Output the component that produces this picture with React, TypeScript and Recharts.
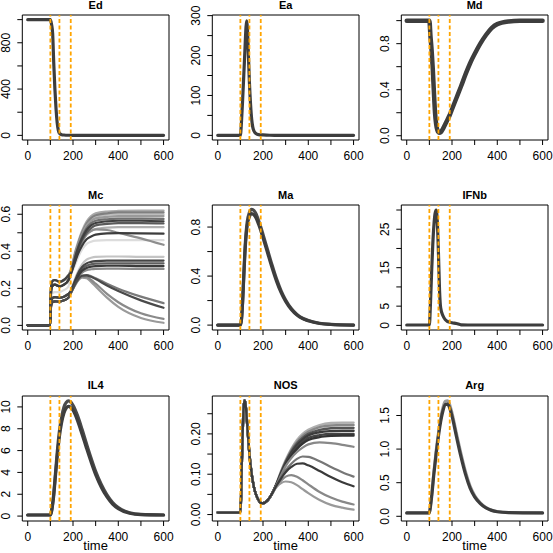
import React from 'react';
import { LineChart, Line, XAxis, YAxis, ReferenceLine, ReferenceArea } from 'recharts';

const FONT = 'Arial, "Liberation Sans", Helvetica, sans-serif';

const xTicks = [0, 100, 200, 300, 400, 500, 600];
const xLabels = [0, 200, 400, 600];
const markerTimes = [100, 140, 190];

// ---- Ed ----
const edTimes = [0, 100, 105, 110, 115, 120, 125, 130, 135, 140, 150, 160, 180, 200, 300, 600];
const edValues = [1000, 1000, 960, 880, 620, 400, 230, 110, 45, 18, 6, 3, 1, 0.5, 0, 0];

// ---- Ea ----
const eaTimes = [0, 100, 105, 110, 115, 120, 125, 128, 131, 135, 140, 145, 150, 155, 160, 170, 180, 200, 230, 300, 600];
const eaValues = [0, 0, 35, 90, 150, 212, 272, 287, 270, 210, 132, 78, 40, 20, 11, 4, 2, 1, 0.3, 0, 0];

// ---- Md ----
const mdTimes = [0, 100, 105, 110, 115, 120, 125, 130, 135, 140, 145, 150, 160, 170, 180, 190, 200, 220, 240, 260, 280, 300, 325, 350, 375, 400, 450, 500, 600];
const mdValues = [1, 1, 0.86, 0.74, 0.58, 0.38, 0.2, 0.1, 0.05, 0.03, 0.025, 0.03, 0.06, 0.1, 0.14, 0.18, 0.23, 0.33, 0.43, 0.535, 0.63, 0.71, 0.8, 0.875, 0.935, 0.97, 0.993, 0.999, 1];

// ---- Mc ----
const mcTimes = [0, 99, 102, 105, 110, 120, 140, 160, 180, 190, 200, 210, 220, 240, 260, 280, 300, 350, 400, 500, 600];
const mcUpperA = [0, 0, 0.19, 0.225, 0.24, 0.245, 0.235, 0.245, 0.27];
const mcUpperB = [0, 0, 0.16, 0.2, 0.215, 0.22, 0.21, 0.22, 0.245];
const mcMid = [0, 0, 0.13, 0.16, 0.175, 0.18, 0.18, 0.19, 0.21];
const mcLowerA = [0, 0, 0.11, 0.135, 0.148, 0.152, 0.15, 0.155, 0.17];
const mcLowerB = [0, 0, 0.09, 0.115, 0.125, 0.13, 0.128, 0.135, 0.15];
const mcTail460 = [0.27, 0.3, 0.33, 0.36, 0.41, 0.44, 0.452, 0.458, 0.46, 0.46, 0.46, 0.46];
const mcTail620 = [0.3, 0.35, 0.4, 0.44, 0.51, 0.56, 0.59, 0.605, 0.615, 0.618, 0.62, 0.62];
const mcTail610 = [0.295, 0.34, 0.39, 0.43, 0.5, 0.55, 0.58, 0.595, 0.605, 0.61, 0.61, 0.61];
const mcTail600 = [0.29, 0.335, 0.38, 0.42, 0.49, 0.54, 0.57, 0.585, 0.598, 0.6, 0.6, 0.6];
const mcTail590 = [0.29, 0.335, 0.38, 0.42, 0.49, 0.54, 0.565, 0.578, 0.586, 0.59, 0.59, 0.59];
const mcTail575 = [0.285, 0.33, 0.375, 0.415, 0.48, 0.525, 0.552, 0.565, 0.573, 0.576, 0.576, 0.575];
const mcTail565 = [0.285, 0.325, 0.37, 0.41, 0.47, 0.515, 0.54, 0.553, 0.562, 0.565, 0.565, 0.562];
const mcTail550 = [0.28, 0.32, 0.36, 0.4, 0.46, 0.5, 0.525, 0.54, 0.548, 0.552, 0.552, 0.55];
const mcTail530 = [0.28, 0.315, 0.355, 0.39, 0.45, 0.49, 0.51, 0.52, 0.528, 0.53, 0.53, 0.53];
const mcTail495 = [0.275, 0.31, 0.345, 0.38, 0.43, 0.465, 0.48, 0.49, 0.497, 0.498, 0.497, 0.495];
const mcTail435 = [0.28, 0.315, 0.35, 0.39, 0.45, 0.49, 0.51, 0.518, 0.515, 0.5, 0.47, 0.435];
const mcTail370 = [0.19, 0.22, 0.255, 0.285, 0.33, 0.355, 0.365, 0.37, 0.372, 0.372, 0.37, 0.37];
const mcTail350 = [0.185, 0.215, 0.245, 0.275, 0.315, 0.335, 0.343, 0.347, 0.35, 0.35, 0.35, 0.35];
const mcTail335 = [0.18, 0.21, 0.24, 0.265, 0.305, 0.322, 0.33, 0.333, 0.335, 0.335, 0.335, 0.335];
const mcTail320 = [0.18, 0.205, 0.235, 0.26, 0.295, 0.31, 0.317, 0.32, 0.322, 0.322, 0.32, 0.32];
const mcTail305 = [0.175, 0.2, 0.23, 0.255, 0.285, 0.298, 0.303, 0.305, 0.306, 0.306, 0.305, 0.305];
const mcTail120 = [0.175, 0.2, 0.225, 0.245, 0.268, 0.272, 0.265, 0.255, 0.225, 0.198, 0.155, 0.12];
const mcTail095 = [0.175, 0.2, 0.225, 0.245, 0.268, 0.27, 0.262, 0.25, 0.215, 0.185, 0.135, 0.095];
const mcTail035 = [0.175, 0.198, 0.22, 0.24, 0.262, 0.262, 0.245, 0.225, 0.17, 0.125, 0.065, 0.035];
const mcTail014 = [0.172, 0.195, 0.218, 0.238, 0.258, 0.255, 0.235, 0.21, 0.15, 0.1, 0.04, 0.014];

// ---- Ma ----
const maTimes = [0, 100, 105, 110, 115, 120, 125, 130, 140, 150, 160, 170, 180, 190, 200, 220, 240, 260, 280, 300, 325, 350, 375, 400, 450, 500, 600];
const maUpper = [0, 0, 0.05, 0.2, 0.41, 0.61, 0.75, 0.84, 0.92, 0.945, 0.935, 0.905, 0.855, 0.8, 0.74, 0.615, 0.49, 0.375, 0.28, 0.205, 0.135, 0.087, 0.056, 0.038, 0.015, 0.006, 0];
const maLower = [0, 0, 0.045, 0.19, 0.39, 0.58, 0.72, 0.81, 0.885, 0.91, 0.9, 0.872, 0.825, 0.772, 0.713, 0.59, 0.468, 0.357, 0.265, 0.194, 0.128, 0.082, 0.053, 0.035, 0.013, 0.005, 0];

// ---- IFNb ----
const ifnTimes = [0, 100, 105, 110, 115, 120, 125, 130, 135, 140, 145, 150, 160, 170, 180, 200, 220, 240, 300, 600];
const ifnValues = [0.1, 0.1, 6, 14, 21, 26, 29, 30, 27, 19, 9, 4.5, 2.5, 1.5, 1, 0.7, 0.5, 0.15, 0.1, 0.1];

// ---- IL4 ----
const il4Times = [0, 100, 105, 110, 115, 120, 130, 140, 150, 160, 170, 180, 190, 200, 220, 240, 260, 280, 300, 325, 350, 375, 400, 450, 500, 600];
const il4Upper = [0.1, 0.1, 0.45, 1.15, 2.1, 3.3, 5.8, 7.8, 9.1, 10, 10.4, 10.55, 10.45, 10.15, 9.2, 7.95, 6.6, 5.3, 4.1, 2.9, 1.95, 1.25, 0.78, 0.3, 0.15, 0.1];
const il4Lower = [0.1, 0.1, 0.4, 1.05, 1.9, 3.1, 5.4, 7.3, 8.6, 9.45, 9.9, 10.05, 9.95, 9.7, 8.75, 7.5, 6.2, 4.95, 3.8, 2.65, 1.75, 1.1, 0.68, 0.26, 0.13, 0.1];

// ---- NOS ----
const nosTimes = [0, 100, 103, 106, 110, 114, 118, 122, 126, 130, 140, 150, 160, 170, 180, 190, 200, 220, 240, 260, 280, 300, 325, 350, 375, 400, 450, 500, 550, 600];
const nosStart = [0.005, 0.005, 0.04, 0.12, 0.2, 0.262, 0.283, 0.278, 0.255, 0.225, 0.15, 0.1, 0.068, 0.048, 0.036, 0.029, 0.028, 0.035, 0.052];
const nosTail228 = [0.078, 0.108, 0.135, 0.163, 0.185, 0.2, 0.21, 0.222, 0.227, 0.228, 0.228];
const nosTail222 = [0.077, 0.106, 0.132, 0.16, 0.18, 0.195, 0.205, 0.217, 0.221, 0.222, 0.222];
const nosTail215 = [0.076, 0.104, 0.13, 0.156, 0.176, 0.19, 0.2, 0.21, 0.214, 0.215, 0.215];
const nosTail208 = [0.076, 0.103, 0.128, 0.153, 0.172, 0.186, 0.196, 0.204, 0.207, 0.208, 0.208];
const nosTail200 = [0.075, 0.101, 0.125, 0.149, 0.167, 0.18, 0.19, 0.197, 0.2, 0.2, 0.2];
const nosTail196 = [0.074, 0.1, 0.123, 0.146, 0.163, 0.176, 0.185, 0.192, 0.195, 0.196, 0.196];
const nosTail168 = [0.074, 0.098, 0.12, 0.14, 0.155, 0.166, 0.174, 0.179, 0.177, 0.173, 0.168];
const nosTail094 = [0.073, 0.094, 0.11, 0.126, 0.138, 0.144, 0.143, 0.132, 0.118, 0.105, 0.094];
const nosTail070 = [0.072, 0.09, 0.105, 0.118, 0.126, 0.127, 0.122, 0.108, 0.093, 0.08, 0.07];
const nosTail025 = [0.07, 0.084, 0.094, 0.098, 0.094, 0.085, 0.075, 0.056, 0.042, 0.032, 0.025];
const nosTail012 = [0.068, 0.078, 0.082, 0.08, 0.073, 0.063, 0.053, 0.036, 0.024, 0.017, 0.012];

// ---- Arg ----
const argTimes = [0, 100, 105, 110, 120, 130, 140, 150, 160, 170, 180, 190, 200, 220, 240, 260, 280, 300, 325, 350, 375, 400, 450, 600];
const argUpper = [0.05, 0.05, 0.16, 0.31, 0.67, 0.98, 1.24, 1.46, 1.62, 1.71, 1.72, 1.66, 1.54, 1.23, 0.93, 0.66, 0.45, 0.31, 0.2, 0.13, 0.09, 0.07, 0.055, 0.05];
const argMain = [0.05, 0.05, 0.15, 0.29, 0.63, 0.93, 1.19, 1.41, 1.57, 1.66, 1.67, 1.61, 1.49, 1.18, 0.88, 0.62, 0.42, 0.29, 0.19, 0.125, 0.088, 0.068, 0.055, 0.05];

type Series = { values: number[]; color: string; width: number };
type PanelDef = {
  title: string;
  times: number[];
  series: Series[];
  yDomain: [number, number];
  yTicks: number[];
  yLabels: number[];
  digits: number;
};

const DARK = '#3d3d3d';

const panels: PanelDef[] = [
  { title: 'Ed', times: edTimes, series: [{ values: edValues, color: DARK, width: 3.2 }], yDomain: [-40, 1040], yTicks: [0, 200, 400, 600, 800, 1000], yLabels: [0, 400, 800], digits: 0 },
  { title: 'Ea', times: eaTimes, series: [{ values: eaValues, color: DARK, width: 3.2 }], yDomain: [-11.6, 301.6], yTicks: [0, 50, 100, 150, 200, 250, 300], yLabels: [0, 100, 200, 300], digits: 0 },
  { title: 'Md', times: mdTimes, series: [{ values: mdValues, color: DARK, width: 4.5 }], yDomain: [-0.037, 1.049], yTicks: [0, 0.2, 0.4, 0.6, 0.8, 1.0], yLabels: [0, 0.4, 0.8], digits: 1 },
  {
    title: 'Mc', times: mcTimes, yDomain: [-0.025, 0.65], yTicks: [0, 0.1, 0.2, 0.3, 0.4, 0.5, 0.6], yLabels: [0, 0.2, 0.4, 0.6], digits: 1,
    series: [
      { values: [...mcMid, ...mcTail460], color: '#dcdcdc', width: 2.2 },
      { values: [...mcUpperA, ...mcTail620], color: '#a8a8a8', width: 2.2 },
      { values: [...mcUpperB, ...mcTail600], color: '#bdbdbd', width: 2.2 },
      { values: [...mcUpperB, ...mcTail530], color: '#b0b0b0', width: 2.2 },
      { values: [...mcLowerA, ...mcTail370], color: '#c4c4c4', width: 2.2 },
      { values: [...mcUpperA, ...mcTail610], color: '#808080', width: 2.2 },
      { values: [...mcUpperA, ...mcTail590], color: '#9a9a9a', width: 2.2 },
      { values: [...mcUpperA, ...mcTail435], color: '#8e8e8e', width: 2.2 },
      { values: [...mcLowerB, ...mcTail305], color: '#8a8a8a', width: 2.2 },
      { values: [...mcLowerB, ...mcTail014], color: '#9a9a9a', width: 2.2 },
      { values: [...mcLowerA, ...mcTail035], color: '#8a8a8a', width: 2.2 },
      { values: [...mcLowerA, ...mcTail120], color: '#7a7a7a', width: 2.2 },
      { values: [...mcUpperB, ...mcTail575], color: '#707070', width: 2.2 },
      { values: [...mcUpperB, ...mcTail550], color: '#5a5a5a', width: 2.2 },
      { values: [...mcLowerA, ...mcTail335], color: '#5e5e5e', width: 2.2 },
      { values: [...mcUpperA, ...mcTail565], color: '#404040', width: 2.2 },
      { values: [...mcUpperB, ...mcTail495], color: '#3c3c3c', width: 2.2 },
      { values: [...mcLowerA, ...mcTail350], color: '#444444', width: 2.2 },
      { values: [...mcLowerB, ...mcTail320], color: '#3a3a3a', width: 2.2 },
      { values: [...mcLowerB, ...mcTail095], color: '#4a4a4a', width: 2.2 },
    ],
  },
  {
    title: 'Ma', times: maTimes, yDomain: [-0.04, 0.98], yTicks: [0, 0.2, 0.4, 0.6, 0.8], yLabels: [0, 0.4, 0.8], digits: 1,
    series: [
      { values: maUpper, color: '#4a4a4a', width: 3.2 },
      { values: maLower, color: DARK, width: 3.2 },
    ],
  },
  { title: 'IFNb', times: ifnTimes, series: [{ values: ifnValues, color: DARK, width: 3.2 }], yDomain: [-1.2, 31.3], yTicks: [0, 5, 10, 15, 20, 25, 30], yLabels: [0, 5, 15, 25], digits: 0 },
  {
    title: 'IL4', times: il4Times, yDomain: [-0.45, 11.0], yTicks: [0, 2, 4, 6, 8, 10], yLabels: [0, 2, 4, 6, 8, 10], digits: 0,
    series: [
      { values: il4Upper, color: '#4a4a4a', width: 3.2 },
      { values: il4Lower, color: DARK, width: 3.2 },
    ],
  },
  {
    title: 'NOS', times: nosTimes, yDomain: [-0.016, 0.294], yTicks: [0, 0.05, 0.1, 0.15, 0.2, 0.25], yLabels: [0, 0.1, 0.2], digits: 2,
    series: [
      { values: [...nosStart, ...nosTail228], color: '#b0b0b0', width: 2.4 },
      { values: [...nosStart, ...nosTail222], color: '#888888', width: 2.4 },
      { values: [...nosStart, ...nosTail215], color: '#555555', width: 2.4 },
      { values: [...nosStart, ...nosTail208], color: '#3c3c3c', width: 2.4 },
      { values: [...nosStart, ...nosTail200], color: '#444444', width: 2.4 },
      { values: [...nosStart, ...nosTail196], color: '#333333', width: 2.4 },
      { values: [...nosStart, ...nosTail168], color: '#888888', width: 2.2 },
      { values: [...nosStart, ...nosTail094], color: '#777777', width: 2.2 },
      { values: [...nosStart, ...nosTail025], color: '#888888', width: 2.2 },
      { values: [...nosStart, ...nosTail012], color: '#999999', width: 2.2 },
      { values: [...nosStart, ...nosTail070], color: '#3a3a3a', width: 2.2 },
    ],
  },
  {
    title: 'Arg', times: argTimes, yDomain: [-0.07, 1.79], yTicks: [0, 0.5, 1.0, 1.5], yLabels: [0, 0.5, 1.0, 1.5], digits: 1,
    series: [
      { values: argUpper, color: '#9a9a9a', width: 3 },
      { values: argMain, color: DARK, width: 3.2 },
    ],
  },
];

const COL_X = [0, 190, 379];
const ROW_Y = [0, 190, 380.5];
const PLOT_LEFT = 22.3;
const PLOT_TOP = 15;
const PLOT_W = 146.7;
const PLOT_H = 125;
const X_AXIS_H = 40;
const CHART_W = PLOT_LEFT + PLOT_W + 10;
const CHART_H = PLOT_TOP + PLOT_H + X_AXIS_H;
const X_DOMAIN: [number, number] = [-24, 624];

function Panel({ p, left, top, showTime }: { p: PanelDef; left: number; top: number; showTime: boolean }) {
  const rows = p.times.map((t, i) => {
    const r: Record<string, number> = { t };
    p.series.forEach((s, j) => {
      r['s' + j] = s.values[i];
    });
    return r;
  });

  const XTick = (props: any) => {
    const { x, payload } = props;
    if (!xLabels.some((v) => Math.abs(v - payload.value) < 1e-9)) return <g />;
    return (
      <text x={x} y={PLOT_TOP + PLOT_H + 19.5} textAnchor="middle" fontSize={12} fontFamily={FONT} fill="#000">
        {String(payload.value)}
      </text>
    );
  };

  const YTick = (props: any) => {
    const { y, payload } = props;
    if (!p.yLabels.some((v) => Math.abs(v - payload.value) < 1e-9)) return <g />;
    const lx = PLOT_LEFT - 12.2;
    return (
      <text x={lx} y={y} transform={`rotate(-90 ${lx} ${y})`} textAnchor="middle" fontSize={12} fontFamily={FONT} fill="#000">
        {Number(payload.value).toFixed(p.digits)}
      </text>
    );
  };

  return (
    <div style={{ position: 'absolute', left, top, width: CHART_W, height: CHART_H }}>
      <LineChart width={CHART_W} height={CHART_H} data={rows} margin={{ top: PLOT_TOP, right: 10, bottom: 0, left: 0 }}>
        <XAxis
          dataKey="t"
          type="number"
          domain={X_DOMAIN}
          ticks={xTicks}
          interval={0}
          allowDataOverflow
          axisLine={false}
          tickLine={{ stroke: '#000', strokeWidth: 1 }}
          tickSize={5}
          height={X_AXIS_H}
          tick={XTick}
        />
        <YAxis
          type="number"
          domain={p.yDomain}
          ticks={p.yTicks}
          interval={0}
          allowDataOverflow
          axisLine={false}
          tickLine={{ stroke: '#000', strokeWidth: 1 }}
          tickSize={5}
          width={PLOT_LEFT}
          tick={YTick}
        />
        {p.series.map((s, j) => (
          <Line
            key={j}
            dataKey={'s' + j}
            type="monotone"
            stroke={s.color}
            strokeWidth={s.width}
            dot={false}
            activeDot={false}
            isAnimationActive={false}
            strokeLinejoin="round"
            strokeLinecap="round"
          />
        ))}
        {markerTimes.map((m) => (
          <ReferenceLine key={m} x={m} stroke="#FFA500" strokeWidth={1.8} strokeDasharray="4 2.5" />
        ))}
        <ReferenceArea
          x1={X_DOMAIN[0]}
          x2={X_DOMAIN[1]}
          y1={p.yDomain[0]}
          y2={p.yDomain[1]}
          fill="none"
          fillOpacity={0}
          stroke="#000"
          strokeWidth={1}
          ifOverflow="visible"
        />
      </LineChart>
      <div
        style={{
          position: 'absolute',
          left: PLOT_LEFT,
          top: PLOT_TOP - 15.3,
          width: PLOT_W,
          textAlign: 'center',
          fontFamily: FONT,
          fontWeight: 'bold',
          fontSize: 11,
          lineHeight: '11px',
          color: '#000',
        }}
      >
        {p.title}
      </div>
      {showTime && (
        <div
          style={{
            position: 'absolute',
            left: PLOT_LEFT,
            top: 539 - top,
            width: PLOT_W,
            textAlign: 'center',
            fontFamily: FONT,
            fontSize: 13,
            lineHeight: '13px',
            color: '#000',
          }}
        >
          time
        </div>
      )}
    </div>
  );
}

export default function App() {
  return (
    <div style={{ position: 'absolute', left: 0, top: 0, width: 553, height: 553, background: '#fff', overflow: 'hidden' }}>
      {panels.map((p, i) => (
        <Panel key={p.title} p={p} left={COL_X[i % 3]} top={ROW_Y[Math.floor(i / 3)]} showTime={Math.floor(i / 3) === 2} />
      ))}
    </div>
  );
}
